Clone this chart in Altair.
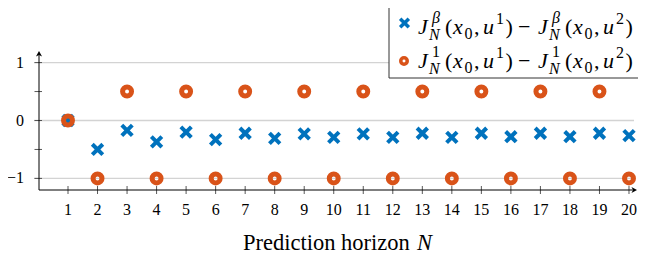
import altair as alt
import pandas as pd

# ---------------- data ----------------
N = list(range(1, 21))
j_beta = [0.0, -0.5, -0.17, -0.37, -0.2, -0.33, -0.22, -0.31, -0.23, -0.29,
          -0.23, -0.29, -0.22, -0.29, -0.22, -0.28, -0.22, -0.28, -0.22, -0.26]
j_one = [0.0, -1, 0.5, -1, 0.5, -1, 0.5, -1, 0.5, -1,
         0.5, -1, 0.5, -1, 0.5, -1, 0.5, -1, 0.5, -1]
y_tick_vals = [-1, -0.5, 0, 0.5, 1]
y_grid_vals = [-1, 0, 1]
y_label_vals = [-1, 0, 1]
y_label_txt = ["\u22121", "0", "1"]
x_label_txt = [str(n) for n in N]
x_title = "Prediction horizon "
x_title_var = "N"

BLUE = "#0072BD"
ORANGE = "#D95319"
SERIF = "Liberation Serif"
W, H = 598, 139

xs = alt.Scale(domain=[0.0178, 20.271], nice=False, zero=False)
ys = alt.Scale(domain=[-1.2, 1.2], nice=False, zero=False)

df = pd.DataFrame({"N": N, "jb": j_beta, "j1": j_one, "lab": x_label_txt})
one = pd.DataFrame({"a": [0]})

X_PATH = "M-1,-1L1,1M1,-1L-1,1"
ARROW = "M0,0L-2,-1.1L-1.4,0L-2,1.1Z"


def txt(s, x, y, size, italic=False, align="left"):
    return alt.Chart(one).mark_text(
        text=s, font=SERIF, fontSize=size,
        fontStyle="italic" if italic else "normal",
        align=align, baseline="alphabetic", color="black"
    ).encode(x=alt.value(x), y=alt.value(y))


BIG, SMALL = 22, 16


def half(x0, y0, sup, sup_italic, sub2):
    return [
        txt("J", x0, y0, BIG, True),
        txt(sup, x0 + 14, y0 - 11, SMALL, sup_italic),
        txt("N", x0 + 11, y0 + 6, SMALL, True),
        txt("(", x0 + 27, y0, BIG),
        txt("x", x0 + 35, y0, BIG, True),
        txt("0", x0 + 46.5, y0 + 5, SMALL),
        txt(",", x0 + 56, y0, BIG),
        txt("u", x0 + 65, y0, BIG, True),
        txt(sub2, x0 + 78, y0 - 10, SMALL),
        txt(")", x0 + 87.5, y0, BIG),
    ]


layers = []

# grid lines
layers.append(alt.Chart(pd.DataFrame({"g": y_grid_vals})).mark_rule(
    color="#d3d3d3", strokeWidth=1.3
).encode(y=alt.Y("g:Q", scale=ys, axis=None), x=alt.value(-5), x2=alt.value(W - 3)))

# y ticks
layers.append(alt.Chart(pd.DataFrame({"t": y_tick_vals})).mark_rule(
    color="#444", strokeWidth=0.9
).encode(y=alt.Y("t:Q", scale=ys, axis=None), x=alt.value(-4.5), x2=alt.value(3)))

# x ticks
layers.append(alt.Chart(df).mark_rule(color="#444", strokeWidth=0.9).encode(
    x=alt.X("N:Q", scale=xs, axis=None), y=alt.value(H - 4), y2=alt.value(H + 4)))

# axis lines
layers.append(alt.Chart(one).mark_rule(color="black", strokeWidth=1).encode(
    x=alt.value(0), x2=alt.value(W - 2), y=alt.value(H)))
layers.append(alt.Chart(one).mark_rule(color="black", strokeWidth=1).encode(
    x=alt.value(0), y=alt.value(H), y2=alt.value(2)))
layers.append(alt.Chart(one).mark_point(
    shape=ARROW, filled=True, color="black", size=31, opacity=1
).encode(x=alt.value(W), y=alt.value(H)))
layers.append(alt.Chart(one).mark_point(
    shape=ARROW, filled=True, color="black", size=31, opacity=1, angle=270
).encode(x=alt.value(0), y=alt.value(0)))

# tick labels
layers.append(alt.Chart(df).mark_text(
    font=SERIF, fontSize=16, baseline="alphabetic", color="black"
).encode(x=alt.X("N:Q", scale=xs, axis=None), y=alt.value(164), text="lab:N"))
layers.append(alt.Chart(pd.DataFrame({"v": y_label_vals, "s": y_label_txt})).mark_text(
    font=SERIF, fontSize=16, baseline="middle", align="right", color="black"
).encode(y=alt.Y("v:Q", scale=ys, axis=None), x=alt.value(-15), text="s:N"))

# axis title
layers.append(txt(x_title, 204, 199, 22.5))
layers.append(txt(x_title_var, 378, 199, 22.5, True))

# data
layers.append(alt.Chart(df).mark_point(
    shape=X_PATH, filled=False, stroke=BLUE, strokeWidth=4, size=110, opacity=1
).encode(x=alt.X("N:Q", scale=xs, axis=None), y=alt.Y("jb:Q", scale=ys, axis=None)))
layers.append(alt.Chart(df).mark_point(
    shape="circle", filled=False, stroke=ORANGE, strokeWidth=5, size=80, opacity=1
).encode(x=alt.X("N:Q", scale=xs, axis=None), y=alt.Y("j1:Q", scale=ys, axis=None)))

# legend box
layers.append(alt.Chart(one).mark_rect(
    fill="white", stroke="#333", strokeWidth=1
).encode(x=alt.value(350), x2=alt.value(640), y=alt.value(-70), y2=alt.value(27)))
layers.append(alt.Chart(one).mark_point(
    shape=X_PATH, filled=False, stroke=BLUE, strokeWidth=3.5, size=75, opacity=1
).encode(x=alt.value(365.5), y=alt.value(-28)))
layers.append(alt.Chart(one).mark_point(
    shape="circle", filled=False, stroke=ORANGE, strokeWidth=3.5, size=42, opacity=1
).encode(x=alt.value(365), y=alt.value(10)))

L1, L2 = -17, 17
JX = 379
layers += half(JX, L1, "\u03b2", True, "1")
layers.append(txt("\u2212", JX + 100, L1, BIG))
layers += half(JX + 120, L1, "\u03b2", True, "2")
layers += half(JX, L2, "1", False, "1")
layers.append(txt("\u2212", JX + 100, L2, BIG))
layers += half(JX + 120, L2, "1", False, "2")

chart = alt.layer(*layers).properties(
    width=W, height=H,
    autosize=alt.AutoSizeParams(type="none"),
    padding={"left": 31, "top": 43, "right": 1, "bottom": 66},
    background="white",
).configure_view(stroke=None)

chart.save("out.html", embed_options={"renderer": "svg", "actions": False})
